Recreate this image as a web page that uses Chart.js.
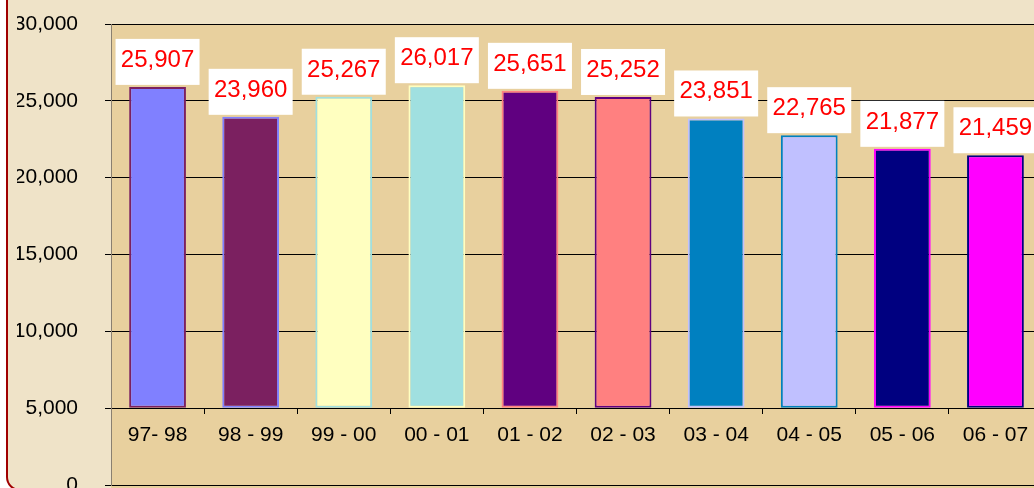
<!DOCTYPE html>
<html>
<head>
<meta charset="utf-8">
<title>Enrollment by year</title>
<script src="https://cdn.jsdelivr.net/npm/chart.js@4.4.1/dist/chart.umd.min.js"></script>
<style>
  html, body { margin: 0; padding: 0; background: #fff; overflow: hidden; }
  #page { position: relative; width: 1034px; height: 488px; overflow: hidden; }
  #frame {
    position: absolute; left: 6px; top: -20px; width: 1100px; height: 507px;
    border: 2px solid #a00000; border-radius: 14px; background: #efe3c8;
  }
  #graph { position: absolute; left: 0; top: 0; }
</style>
</head>
<body>
<div id="page">
  <div id="frame"></div>
  <canvas id="graph" width="1050" height="500"></canvas>
</div>
<script>
const categories = ["97- 98", "98 - 99", "99 - 00", "00 - 01", "01 - 02", "02 - 03", "03 - 04", "04 - 05", "05 - 06", "06 - 07"];
const values = [25907, 23960, 25267, 26017, 25651, 25252, 23851, 22765, 21877, 21459];
const fillColors = ["#8080ff", "#7b2060", "#ffffc0", "#a0e0e0", "#600080", "#ff8080", "#0080c0", "#c0c0ff", "#000080", "#ff00ff"];
const edgeColors = ["#7b2060", "#8080ff", "#a0e0e0", "#ffffc0", "#ff8080", "#600080", "#c0c0ff", "#0080c0", "#ff00ff", "#000080"];
const yMin = 0;
const yMax = 30000;
const yStep = 5000;
const baseValue = 5000;

const fontFamily = '"Liberation Sans", Arial, sans-serif';
const fmt = v => Number(v).toLocaleString("en-US");

// plot area fill (tan parchment)
const plotBg = {
  id: "plotBg",
  beforeDraw(chart) {
    const a = chart.chartArea;
    const c = chart.ctx;
    c.save();
    c.fillStyle = "#e8d09e";
    c.fillRect(a.left, a.top, a.right - a.left, a.bottom - a.top + 4);
    c.restore();
  }
};

// white boxes with red values above each bar
const valueBoxes = {
  id: "valueBoxes",
  afterDatasetsDraw(chart) {
    const c = chart.ctx;
    const w = 84, h = 46;
    c.save();
    c.font = "24px " + fontFamily;
    c.textAlign = "center";
    c.textBaseline = "alphabetic";
    chart.getDatasetMeta(0).data.forEach((bar, i) => {
      const x = bar.x - w / 2;
      const y = bar.y - 2 - h;
      c.fillStyle = "#ffffff";
      c.fillRect(x, y, w, h);
      c.fillStyle = "#ff0000";
      c.fillText(fmt(values[i]), bar.x, y + 28);
    });
    c.restore();
  }
};

const ctx = document.getElementById("graph").getContext("2d");
const chart = new Chart(ctx, {
  type: "bar",
  data: {
    labels: categories,
    datasets: [{
      data: values,
      base: baseValue,
      backgroundColor: fillColors,
      borderColor: edgeColors,
      borderWidth: 2,
      borderSkipped: false,
      barPercentage: 0.61,
      categoryPercentage: 1
    }]
  },
  options: {
    responsive: false,
    animation: false,
    layout: { padding: { left: 17, top: 24, right: 8, bottom: 15 } },
    plugins: {
      legend: { display: false },
      tooltip: { enabled: false }
    },
    scales: {
      x: {
        type: "category",
        position: { y: baseValue },
        offset: true,
        grid: { display: true, drawOnChartArea: false, drawTicks: true, tickLength: 5, color: "#000", offset: true },
        border: { display: true, color: "#000", width: 1 },
        ticks: { color: "#000", font: { family: fontFamily, size: 21 }, padding: 9, maxRotation: 0, autoSkip: false },
        afterFit(scale) {
          scale.paddingLeft = 0;
          scale.paddingRight = 0;
        }
      },
      y: {
        min: yMin,
        max: yMax,
        ticks: { stepSize: yStep, color: "#000", font: { family: fontFamily, size: 21 }, padding: 27, callback: v => fmt(v) },
        grid: { color: "#000", lineWidth: 1, drawTicks: true, tickLength: 6 },
        border: { color: "#8a8070", width: 1 },
        afterFit(scale) {
          scale.width = 94;
          scale.paddingTop = 0;
          scale.paddingBottom = 0;
        }
      }
    }
  },
  plugins: [plotBg, valueBoxes]
});
</script>
</body>
</html>
